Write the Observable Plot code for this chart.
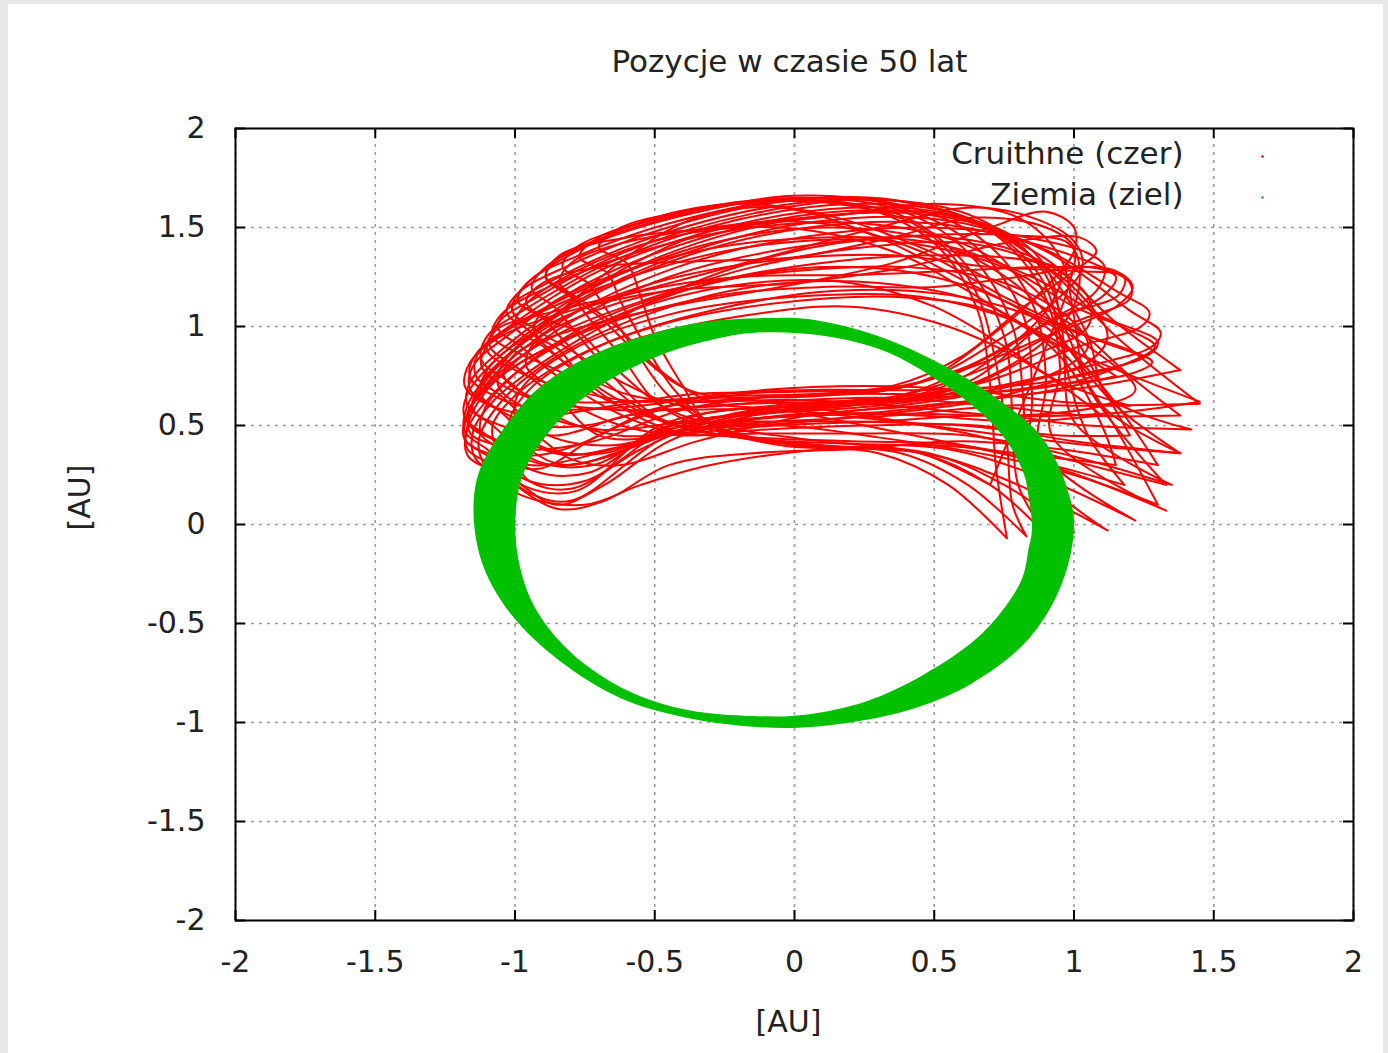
<!DOCTYPE html>
<html>
<head>
<meta charset="utf-8">
<script src="https://cdn.jsdelivr.net/npm/d3@7"></script>
<script src="https://cdn.jsdelivr.net/npm/@observablehq/plot@0.6"></script>
<style>
  html, body { margin: 0; padding: 0; background: #e8e8e8; }
  #chart { position: absolute; left: 8px; top: 4px; width: 1375px; height: 1049px; background: #fff; }
</style>
</head>
<body>
<div id="chart"></div>
<script>
// ---- tick values / labels ----
const xTicks = [-2, -1.5, -1, -0.5, 0, 0.5, 1, 1.5, 2];
const yTicks = [-2, -1.5, -1, -0.5, 0, 0.5, 1, 1.5, 2];
const titleText = "Pozycje w czasie 50 lat";
const xLabel = "[AU]";
const yLabel = "[AU]";
const seriesNames = ["Cruithne (czer)", "Ziemia (ziel)"];

// ---- Earth (Ziemia): outer and inner edge of the band of orbits [AU] ----
const earthOuter = [
  [1.0, 0.05], [0.96, 0.25], [0.88, 0.45], [0.74, 0.62], [0.55, 0.79], [0.3, 0.95], [0.05, 1.035],
  [-0.1, 1.04], [-0.32, 1.02], [-0.5, 0.965], [-0.72, 0.855], [-0.91, 0.69], [-1.04, 0.48],
  [-1.13, 0.25], [-1.146, 0.03], [-1.11, -0.22], [-1.01, -0.46], [-0.84, -0.69], [-0.62, -0.88],
  [-0.38, -0.98], [-0.18, -1.02], [0.0, -1.03], [0.19, -1.005], [0.41, -0.94], [0.63, -0.81],
  [0.82, -0.61], [0.93, -0.39], [0.99, -0.15]
];
const earthInner = [
  [0.85, 0.03], [0.83, 0.22], [0.77, 0.4], [0.67, 0.56], [0.52, 0.72], [0.33, 0.87], [0.11, 0.95],
  [-0.15, 0.965], [-0.325, 0.92], [-0.5, 0.84], [-0.705, 0.687], [-0.865, 0.485], [-0.97, 0.25],
  [-0.997, 0.01], [-0.98, -0.22], [-0.92, -0.44], [-0.79, -0.66], [-0.59, -0.845], [-0.38, -0.94],
  [-0.15, -0.97], [0.04, -0.963], [0.26, -0.895], [0.465, -0.76], [0.655, -0.576], [0.77, -0.39],
  [0.82, -0.26], [0.84, -0.12], [0.85, -0.05]
];

// ---- Cruithne (czer): yearly loops [AU] (a repeated point marks a sharp tip) ----
const cruithneLoops = [
  [[-1.08,0.3],[-1.17,0.38],[-1.17,0.5],[-1.1,0.68],[-0.85,0.98],[-0.45,1.25],[0.0,1.4],[0.45,1.46],[0.8,1.46],[0.98,1.42],[1.02,1.3],[0.98,1.05],[0.7,0.75],[0.35,0.62],[-0.05,0.58],[-0.45,0.45],[-0.8,0.12],[-0.95,0.16]],
  [[-1.09,0.34],[-1.18,0.43],[-1.17,0.55],[-1.09,0.73],[-0.83,1.03],[-0.42,1.3],[0.02,1.45],[0.48,1.5],[0.83,1.45],[1.05,1.37],[1.11,1.3],[1.08,1.18],[0.88,1.0],[0.62,0.72],[0.3,0.63],[-0.08,0.6],[-0.48,0.5],[-0.78,0.17],[-0.96,0.19]],
  [[-1.1,0.38],[-1.18,0.47],[-1.17,0.6],[-1.08,0.78],[-0.82,1.08],[-0.4,1.35],[0.05,1.5],[0.5,1.52],[0.85,1.42],[1.1,1.3],[1.2,1.22],[1.2,1.14],[1.0,1.02],[0.7,0.8],[0.35,0.64],[-0.05,0.58],[-0.45,0.48],[-0.75,0.22],[-0.95,0.22]],
  [[-1.09,0.44],[-1.18,0.54],[-1.17,0.66],[-1.07,0.83],[-0.8,1.11],[-0.37,1.38],[0.08,1.53],[0.52,1.54],[0.88,1.4],[1.15,1.18],[1.27,1.07],[1.24,1.0],[1.02,0.9],[0.68,0.72],[0.32,0.62],[-0.08,0.57],[-0.46,0.49],[-0.74,0.26],[-0.93,0.27]],
  [[-1.08,0.5],[-1.17,0.6],[-1.16,0.72],[-1.05,0.88],[-0.78,1.15],[-0.35,1.42],[0.1,1.56],[0.55,1.55],[0.9,1.38],[1.2,1.08],[1.31,0.97],[1.28,0.9],[1.05,0.8],[0.7,0.68],[0.3,0.6],[-0.1,0.56],[-0.45,0.5],[-0.72,0.3],[-0.92,0.32]],
  [[-1.06,0.58],[-1.16,0.68],[-1.15,0.8],[-1.03,0.95],[-0.74,1.22],[-0.3,1.46],[0.15,1.58],[0.58,1.55],[0.9,1.34],[1.15,1.02],[1.38,0.78],[1.38,0.78],[1.08,0.7],[0.72,0.64],[0.32,0.57],[-0.07,0.54],[-0.42,0.49],[-0.68,0.36],[-0.9,0.39]],
  [[-1.05,0.65],[-1.14,0.75],[-1.13,0.87],[-1.0,1.02],[-0.7,1.28],[-0.25,1.5],[0.2,1.6],[0.6,1.55],[0.9,1.3],[1.15,0.95],[1.45,0.61],[1.45,0.61],[1.1,0.6],[0.75,0.6],[0.35,0.55],[-0.05,0.52],[-0.4,0.48],[-0.65,0.4],[-0.88,0.45]],
  [[-1.02,0.72],[-1.12,0.83],[-1.1,0.95],[-0.96,1.09],[-0.65,1.33],[-0.2,1.54],[0.25,1.62],[0.62,1.55],[0.89,1.3],[1.05,0.95],[1.12,0.65],[1.42,0.48],[1.42,0.48],[1.05,0.5],[0.7,0.55],[0.3,0.52],[-0.07,0.5],[-0.4,0.46],[-0.63,0.45],[-0.86,0.55]],
  [[-1.0,0.8],[-1.09,0.9],[-1.06,1.02],[-0.92,1.15],[-0.6,1.38],[-0.15,1.57],[0.3,1.64],[0.65,1.55],[0.88,1.3],[0.98,0.95],[1.1,0.6],[1.38,0.36],[1.38,0.36],[1.0,0.42],[0.65,0.5],[0.25,0.5],[-0.1,0.48],[-0.4,0.45],[-0.62,0.5],[-0.85,0.65]],
  [[-0.98,0.9],[-1.06,0.99],[-1.02,1.1],[-0.87,1.23],[-0.55,1.43],[-0.1,1.6],[0.32,1.64],[0.66,1.52],[0.88,1.25],[0.96,0.88],[1.0,0.52],[1.35,0.2],[1.35,0.2],[0.98,0.35],[0.62,0.45],[0.22,0.46],[-0.12,0.46],[-0.42,0.46],[-0.63,0.56],[-0.85,0.75]],
  [[-0.95,0.98],[-1.03,1.07],[-0.98,1.18],[-0.82,1.3],[-0.5,1.48],[-0.05,1.63],[0.35,1.64],[0.68,1.5],[0.88,1.2],[0.95,0.8],[0.92,0.45],[1.33,0.07],[1.33,0.07],[0.95,0.28],[0.6,0.4],[0.2,0.42],[-0.15,0.44],[-0.45,0.48],[-0.65,0.62],[-0.85,0.85]],
  [[-0.9,1.04],[-0.99,1.13],[-0.94,1.24],[-0.77,1.36],[-0.45,1.52],[-0.02,1.64],[0.36,1.62],[0.66,1.45],[0.85,1.12],[0.9,0.72],[0.88,0.38],[1.22,0.02],[1.22,0.02],[0.88,0.24],[0.55,0.38],[0.15,0.41],[-0.2,0.44],[-0.47,0.52],[-0.66,0.7],[-0.82,0.92]],
  [[-0.86,1.1],[-0.94,1.19],[-0.89,1.3],[-0.72,1.42],[-0.4,1.56],[0.0,1.66],[0.38,1.6],[0.65,1.4],[0.82,1.05],[0.85,0.65],[0.85,0.3],[1.12,-0.03],[1.12,-0.03],[0.8,0.2],[0.5,0.35],[0.1,0.4],[-0.25,0.45],[-0.5,0.55],[-0.68,0.8],[-0.8,1.0]],
  [[-0.8,1.16],[-0.89,1.25],[-0.84,1.35],[-0.66,1.46],[-0.35,1.58],[0.02,1.65],[0.39,1.58],[0.63,1.36],[0.78,1.0],[0.82,0.6],[0.83,0.25],[1.0,-0.04],[1.0,-0.04],[0.75,0.2],[0.48,0.36],[0.08,0.4],[-0.25,0.46],[-0.48,0.6],[-0.62,0.85],[-0.74,1.05]],
  [[-0.74,1.22],[-0.83,1.3],[-0.78,1.4],[-0.6,1.5],[-0.3,1.6],[0.05,1.64],[0.4,1.55],[0.62,1.3],[0.75,0.95],[0.78,0.55],[0.8,0.2],[0.9,-0.05],[0.9,-0.05],[0.7,0.2],[0.45,0.36],[0.05,0.4],[-0.25,0.48],[-0.45,0.65],[-0.58,0.9],[-0.68,1.1]],
  [[-0.67,1.27],[-0.77,1.35],[-0.7,1.45],[-0.5,1.54],[-0.2,1.62],[0.15,1.62],[0.45,1.5],[0.64,1.2],[0.72,0.82],[0.76,0.42],[0.78,0.1],[0.83,-0.06],[0.83,-0.06],[0.62,0.2],[0.38,0.36],[0.0,0.4],[-0.28,0.49],[-0.43,0.68],[-0.54,0.92],[-0.62,1.12]],
  [[-0.6,1.32],[-0.7,1.4],[-0.62,1.5],[-0.4,1.58],[-0.1,1.64],[0.25,1.6],[0.5,1.42],[0.65,1.1],[0.7,0.7],[0.72,0.3],[0.76,-0.07],[0.76,-0.07],[0.55,0.2],[0.3,0.36],[-0.05,0.4],[-0.3,0.5],[-0.4,0.7],[-0.5,0.95],[-0.55,1.15]],
  [[-0.88,0.7],[-0.96,0.8],[-0.93,0.92],[-0.75,1.06],[-0.4,1.2],[0.0,1.28],[0.4,1.3],[0.75,1.22],[1.0,1.02],[1.05,0.9],[0.95,0.78],[0.65,0.66],[0.25,0.58],[-0.1,0.54],[-0.45,0.45],[-0.7,0.45]],
  [[-0.92,0.45],[-1.0,0.55],[-0.98,0.68],[-0.8,0.88],[-0.45,1.06],[0.0,1.15],[0.45,1.15],[0.8,1.02],[1.15,0.75],[1.15,0.75],[0.85,0.66],[0.45,0.6],[0.05,0.55],[-0.35,0.42],[-0.62,0.3],[-0.8,0.33]],
  [[-0.98,0.6],[-1.06,0.7],[-1.04,0.82],[-0.88,1.0],[-0.55,1.2],[-0.1,1.33],[0.35,1.36],[0.7,1.3],[1.0,1.28],[1.18,1.25],[1.16,1.16],[0.95,1.05],[0.7,0.85],[0.4,0.66],[0.0,0.6],[-0.4,0.52],[-0.7,0.48]],
  [[-0.84,0.88],[-0.93,0.97],[-0.9,1.08],[-0.72,1.22],[-0.35,1.38],[0.1,1.45],[0.5,1.42],[0.85,1.25],[1.1,1.05],[1.3,0.92],[1.26,0.85],[1.0,0.75],[0.65,0.62],[0.25,0.55],[-0.15,0.5],[-0.42,0.5],[-0.62,0.62],[-0.78,0.78]],
  [[-1.02,0.36],[-1.12,0.45],[-1.11,0.58],[-1.0,0.76],[-0.72,1.0],[-0.3,1.22],[0.15,1.33],[0.55,1.36],[0.85,1.33],[0.95,1.28],[0.92,1.12],[0.75,0.88],[0.5,0.68],[0.15,0.62],[-0.25,0.55],[-0.55,0.38],[-0.8,0.18],[-0.95,0.22]],
  [[-1.06,0.42],[-1.16,0.5],[-1.14,0.65],[-0.95,0.95],[-0.6,1.3],[-0.25,1.5],[0.1,1.52],[0.45,1.38],[0.75,1.15],[1.05,0.95],[1.25,0.85],[1.25,0.85],[1.0,0.72],[0.6,0.66],[0.2,0.66],[-0.15,0.64],[-0.5,0.58],[-0.78,0.4],[-0.95,0.35]],
  [[-1.0,0.78],[-1.1,0.88],[-1.07,0.98],[-0.85,1.08],[-0.5,1.2],[-0.1,1.35],[0.3,1.5],[0.62,1.6],[0.85,1.55],[1.0,1.43],[1.03,1.3],[0.95,1.15],[0.75,0.95],[0.45,0.72],[0.1,0.66],[-0.25,0.65],[-0.55,0.62],[-0.8,0.68]],
  [[-0.92,0.98],[-1.01,1.08],[-0.97,1.2],[-0.78,1.38],[-0.5,1.55],[-0.2,1.62],[0.15,1.55],[0.45,1.4],[0.75,1.2],[1.0,1.0],[1.2,0.75],[1.38,0.55],[1.38,0.55],[1.05,0.55],[0.7,0.6],[0.3,0.64],[-0.1,0.62],[-0.4,0.6],[-0.62,0.72],[-0.8,0.88]],
  [[-1.05,0.25],[-1.17,0.35],[-1.17,0.48],[-1.05,0.7],[-0.75,1.0],[-0.35,1.2],[0.1,1.3],[0.5,1.25],[0.85,1.05],[1.1,0.7],[1.3,0.3],[1.3,0.3],[0.95,0.38],[0.6,0.42],[0.2,0.38],[-0.15,0.36],[-0.45,0.3],[-0.68,0.12],[-0.85,0.08]],
  [[-1.02,0.55],[-1.12,0.65],[-1.1,0.78],[-0.92,0.98],[-0.6,1.16],[-0.2,1.25],[0.2,1.26],[0.55,1.28],[0.9,1.3],[1.15,1.28],[1.21,1.2],[1.15,1.1],[0.9,0.95],[0.6,0.78],[0.3,0.68],[-0.1,0.67],[-0.45,0.6],[-0.75,0.5],[-0.92,0.5]],
  [[-0.86,1.02],[-0.96,1.12],[-0.9,1.22],[-0.7,1.3],[-0.35,1.33],[0.0,1.35],[0.35,1.45],[0.65,1.55],[0.9,1.5],[1.0,1.4],[0.98,1.2],[0.9,0.9],[0.8,0.55],[0.7,0.2],[0.7,0.2],[0.45,0.36],[0.1,0.42],[-0.2,0.48],[-0.45,0.58],[-0.65,0.8],[-0.78,0.98]],
  [[-1.08,0.35],[-1.18,0.43],[-1.17,0.56],[-1.05,0.75],[-0.8,0.95],[-0.5,1.12],[-0.15,1.22],[0.2,1.22],[0.5,1.1],[0.75,0.9],[0.95,0.72],[1.2,0.6],[1.2,0.6],[0.95,0.62],[0.6,0.68],[0.25,0.7],[-0.1,0.68],[-0.4,0.62],[-0.7,0.45],[-0.92,0.28]],
  [[-0.98,0.15],[-1.1,0.28],[-1.13,0.42],[-1.05,0.62],[-0.85,0.85],[-0.55,1.05],[-0.15,1.2],[0.3,1.22],[0.7,1.1],[0.95,0.85],[1.1,0.5],[1.15,0.3],[1.15,0.3],[0.85,0.35],[0.5,0.4],[0.1,0.38],[-0.3,0.3],[-0.55,0.2],[-0.75,0.1]],
  [[-0.8,1.15],[-0.89,1.25],[-0.84,1.36],[-0.6,1.45],[-0.25,1.5],[0.15,1.56],[0.5,1.62],[0.8,1.55],[0.95,1.35],[1.0,1.05],[1.05,0.7],[1.33,0.2],[1.33,0.2],[1.0,0.32],[0.65,0.45],[0.25,0.55],[-0.1,0.62],[-0.38,0.68],[-0.55,0.85],[-0.7,1.05]],
  [[-1.0,0.22],[-1.14,0.33],[-1.15,0.47],[-1.08,0.62],[-0.9,0.82],[-0.62,1.05],[-0.25,1.28],[0.15,1.42],[0.55,1.45],[0.85,1.35],[1.05,1.15],[1.05,1.0],[0.85,0.85],[0.55,0.66],[0.2,0.6],[-0.15,0.55],[-0.45,0.42],[-0.68,0.2],[-0.85,0.1]],
  [[-1.06,0.64],[-1.16,0.74],[-1.14,0.86],[-0.98,1.02],[-0.65,1.22],[-0.25,1.38],[0.15,1.44],[0.5,1.4],[0.78,1.28],[1.0,1.1],[1.2,0.98],[1.29,0.9],[1.2,0.82],[0.9,0.72],[0.5,0.68],[0.1,0.68],[-0.25,0.66],[-0.55,0.6],[-0.82,0.58],[-0.98,0.6]],
  [[-0.9,0.38],[-0.99,0.46],[-0.98,0.58],[-0.85,0.75],[-0.6,0.92],[-0.2,1.05],[0.2,1.1],[0.55,1.0],[0.85,0.8],[1.1,0.55],[1.1,0.55],[0.8,0.52],[0.45,0.55],[0.05,0.56],[-0.3,0.5],[-0.6,0.4],[-0.8,0.35]],
  [[-0.98,0.86],[-1.08,0.95],[-1.05,1.06],[-0.88,1.2],[-0.55,1.38],[-0.15,1.5],[0.25,1.52],[0.6,1.42],[0.85,1.2],[1.0,0.95],[1.1,0.7],[1.2,0.45],[1.2,0.45],[0.95,0.45],[0.6,0.5],[0.2,0.52],[-0.15,0.52],[-0.45,0.52],[-0.66,0.62],[-0.85,0.78]],
  [[-1.05,0.5],[-1.15,0.58],[-1.12,0.72],[-0.9,1.0],[-0.6,1.35],[-0.35,1.55],[-0.05,1.6],[0.3,1.45],[0.65,1.2],[0.95,1.0],[1.2,0.88],[1.28,0.82],[1.2,0.76],[0.9,0.7],[0.5,0.64],[0.1,0.62],[-0.3,0.6],[-0.6,0.55],[-0.85,0.45]],
  [[-0.95,0.65],[-1.04,0.75],[-1.0,0.86],[-0.8,0.98],[-0.45,1.1],[-0.05,1.2],[0.35,1.32],[0.7,1.5],[0.9,1.58],[1.0,1.5],[1.0,1.38],[0.9,1.2],[0.7,0.95],[0.45,0.72],[0.1,0.65],[-0.3,0.64],[-0.6,0.62],[-0.82,0.62]],
  [[-1.1,0.45],[-1.17,0.52],[-1.15,0.62],[-1.0,0.8],[-0.7,1.0],[-0.3,1.15],[0.1,1.2],[0.5,1.2],[0.8,1.25],[1.05,1.3],[1.15,1.25],[1.1,1.15],[0.88,1.0],[0.62,0.8],[0.3,0.67],[-0.05,0.65],[-0.4,0.58],[-0.72,0.42],[-0.95,0.38]],
  [[-0.9,0.9],[-1.0,1.0],[-0.97,1.1],[-0.78,1.28],[-0.45,1.45],[-0.05,1.5],[0.35,1.38],[0.62,1.18],[0.88,0.95],[1.12,0.8],[1.45,0.62],[1.45,0.62],[1.12,0.56],[0.75,0.55],[0.35,0.6],[0.0,0.63],[-0.35,0.62],[-0.58,0.65],[-0.75,0.75]],
  [[-1.12,0.62],[-1.18,0.7],[-1.16,0.82],[-1.05,0.95],[-0.8,1.08],[-0.45,1.18],[0.0,1.22],[0.4,1.3],[0.75,1.42],[1.02,1.45],[1.08,1.38],[1.0,1.28],[0.82,1.1],[0.6,0.85],[0.35,0.7],[0.0,0.67],[-0.35,0.66],[-0.65,0.6],[-0.92,0.55]],
  [[-0.82,0.3],[-0.95,0.38],[-1.02,0.5],[-0.95,0.68],[-0.7,0.9],[-0.3,1.08],[0.15,1.18],[0.55,1.16],[0.85,1.05],[1.1,0.85],[1.22,0.68],[1.1,0.6],[0.8,0.55],[0.4,0.56],[0.0,0.55],[-0.35,0.5],[-0.6,0.38]],
  [[-1.04,0.7],[-1.12,0.8],[-1.1,0.9],[-0.95,1.05],[-0.65,1.25],[-0.3,1.42],[0.1,1.5],[0.45,1.45],[0.7,1.3],[0.88,1.1],[1.0,0.85],[1.15,0.6],[1.38,0.36],[1.38,0.36],[1.05,0.4],[0.7,0.46],[0.3,0.53],[-0.05,0.58],[-0.4,0.58],[-0.65,0.58],[-0.9,0.62]],
  [[-0.95,0.3],[-1.06,0.38],[-1.08,0.5],[-1.0,0.65],[-0.78,0.85],[-0.45,1.02],[-0.05,1.12],[0.35,1.15],[0.7,1.08],[0.95,0.88],[1.1,0.6],[1.3,0.1],[1.3,0.1],[1.0,0.25],[0.7,0.35],[0.3,0.44],[-0.05,0.5],[-0.4,0.48],[-0.65,0.38]],
  [[-0.75,1.12],[-0.84,1.22],[-0.8,1.32],[-0.62,1.42],[-0.3,1.5],[0.05,1.55],[0.45,1.58],[0.75,1.48],[0.9,1.3],[0.95,1.05],[0.98,0.75],[1.05,0.45],[1.18,0.2],[1.18,0.2],[0.92,0.3],[0.6,0.4],[0.25,0.5],[-0.05,0.58],[-0.3,0.62],[-0.5,0.8],[-0.62,0.98]],
  [[-1.07,0.4],[-1.16,0.46],[-1.16,0.58],[-1.06,0.76],[-0.82,0.98],[-0.5,1.15],[-0.15,1.3],[0.25,1.4],[0.62,1.42],[0.9,1.3],[1.05,1.12],[1.12,0.95],[1.05,0.82],[0.8,0.72],[0.45,0.64],[0.05,0.6],[-0.35,0.55],[-0.65,0.35],[-0.88,0.3]]
];

// ---- tables built from the arrays above ----
const cruithne = cruithneLoops.flatMap((loop, i) => loop.map(([x, y]) => ({loop: i, x, y})));
// ring rows: outer edge paired with inner edge, first two rows repeated to close the band
const ringIdx = [...earthOuter.keys(), 0, 1];
const earthRing = ringIdx.map(i => ({ox: earthOuter[i][0], oy: earthOuter[i][1], ix: earthInner[i][0], iy: earthInner[i][1]}));

const W = 1375, H = 1049;
const mL = 227, mR = 30, mT = 124, mB = 133;
const frameW = W - mL - mR, frameH = H - mT - mB;
const tickLen = 10;
const fmt = d => String(d);

const chart = Plot.plot({
  width: W, height: H,
  marginLeft: mL, marginRight: mR, marginTop: mT, marginBottom: mB,
  x: {domain: [-2, 2], axis: null},
  y: {domain: [-2, 2], axis: null},
  style: {fontFamily: "'DejaVu Sans', sans-serif", fontSize: "30px", background: "#fff", color: "#222", overflow: "visible"},
  marks: [
    Plot.gridX(xTicks, {stroke: "#9a9a9a", strokeOpacity: 1, strokeWidth: 1.6, strokeDasharray: "3,5"}),
    Plot.gridY(yTicks, {stroke: "#9a9a9a", strokeOpacity: 1, strokeWidth: 1.6, strokeDasharray: "3,5"}),
    Plot.line(cruithne, {x: "x", y: "y", z: "loop", stroke: "#ff0000", strokeWidth: 2, curve: "catmull-rom-closed"}),
    Plot.area(earthRing, {x1: "ox", y1: "oy", x2: "ix", y2: "iy", fill: "#00c000", curve: "catmull-rom"}),
    Plot.frame({stroke: "#000", strokeWidth: 2}),
    // inward tick marks on all four sides
    Plot.ruleX(xTicks, {x: d => d, insetTop: frameH - tickLen, stroke: "#000", strokeWidth: 2}),
    Plot.ruleX(xTicks, {x: d => d, insetBottom: frameH - tickLen, stroke: "#000", strokeWidth: 2}),
    Plot.ruleY(yTicks, {y: d => d, insetRight: frameW - tickLen, stroke: "#000", strokeWidth: 2}),
    Plot.ruleY(yTicks, {y: d => d, insetLeft: frameW - tickLen, stroke: "#000", strokeWidth: 2}),
    // tick labels
    Plot.text(xTicks, {x: d => d, frameAnchor: "bottom", dy: 42, text: fmt, lineAnchor: "middle", fill: "#222"}),
    Plot.text(yTicks, {y: d => d, frameAnchor: "left", dx: -30, textAnchor: "end", text: fmt, fill: "#222"}),
    // axis labels & title
    Plot.text([xLabel], {frameAnchor: "bottom", dx: -6, dy: 102, text: d => d, lineAnchor: "middle", fill: "#222"}),
    Plot.text([yLabel], {frameAnchor: "left", dx: -155, dy: 6, rotate: -90, text: d => d, fill: "#222"}),
    Plot.text([titleText], {frameAnchor: "top", dx: -5, dy: -66, text: d => d, lineAnchor: "middle", fill: "#222", fontSize: 31}),
    // legend
    Plot.text([seriesNames[0]], {frameAnchor: "top-right", dx: -170, dy: 26, textAnchor: "end", lineAnchor: "middle", text: d => d, fill: "#222", fontSize: 31}),
    Plot.text([seriesNames[1]], {frameAnchor: "top-right", dx: -170, dy: 67, textAnchor: "end", lineAnchor: "middle", text: d => d, fill: "#222", fontSize: 31}),
    Plot.dot([seriesNames[0]], {frameAnchor: "top-right", dx: -91, dy: 28, r: 1.3, fill: "#ff0000", stroke: "none"}),
    Plot.dot([seriesNames[1]], {frameAnchor: "top-right", dx: -91, dy: 69, r: 1.3, fill: "#00c000", stroke: "none"})
  ]
});
document.getElementById("chart").appendChild(chart);
</script>
</body>
</html>
